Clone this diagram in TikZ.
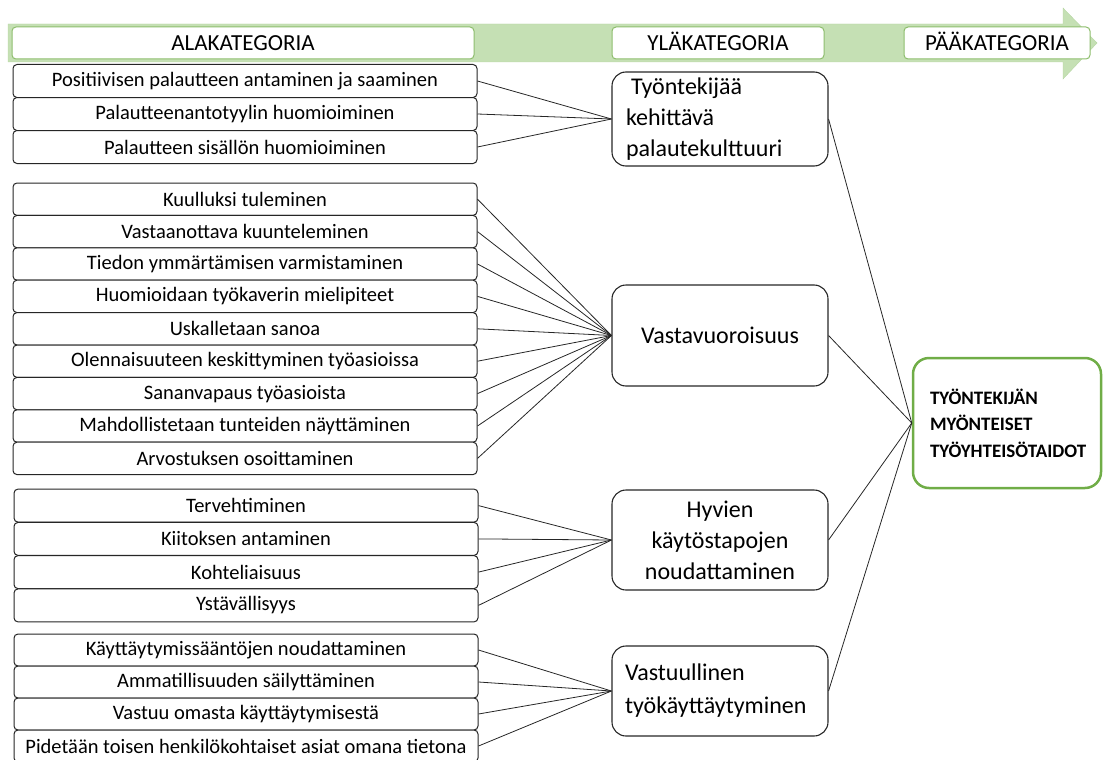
\documentclass[tikz,border=0pt]{standalone}
\usepackage{fontspec}
\setmainfont{Carlito}
\definecolor{bandgreen}{RGB}{197,224,180}
\definecolor{edgegreen}{RGB}{112,173,71}
\begin{document}
\begin{tikzpicture}[x=1pt,y=-1pt,
    alabox/.style={draw=black!85,line width=1pt,rounded corners=4pt,fill=white,
      minimum width=464pt,minimum height=33pt,inner sep=0pt,
      font=\fontsize{20.5}{22}\selectfont},
    headbox/.style={draw=edgegreen!80,line width=1pt,fill=white,rounded corners=4pt,
      minimum height=32pt,inner sep=0pt,text height=15pt,text depth=0pt,
      font=\fontsize{23}{25}\selectfont},
    ylabox/.style={draw=black!85,line width=1.1pt,rounded corners=14pt,
      minimum width=216pt,inner sep=0pt,font=\fontsize{24}{31}\selectfont},
    paabox/.style={draw=edgegreen,line width=2.5pt,rounded corners=16pt,
      minimum width=188pt,minimum height=130pt,inner sep=0pt,
      font=\bfseries\fontsize{19}{26.5}\selectfont},
    link/.style={draw=black!85,line width=0.8pt}]
  \useasboundingbox (0,0) rectangle (1103,760);
  % vihreä nuoli
  \path[fill=bandgreen,draw=edgegreen!50] (8,24)--(1063,24)--(1063,8)--(1097,43)
    --(1063,79)--(1063,62)--(8,62)--cycle;
  \node[headbox,minimum width=462pt] (ala) at (243,43) {ALAKATEGORIA};
  \node[headbox,minimum width=212pt] (yla) at (718,43) {YLÄKATEGORIA};
  \node[headbox,minimum width=186pt] (paakat) at (997,43) {PÄÄKATEGORIA};

  % alakategoriat
  \node[alabox] (a1) at (245,81) {Positiivisen palautteen antaminen ja saaminen};
  \node[alabox] (a2) at (245,114) {Palautteenantotyylin huomioiminen};
  \node[alabox] (a3) at (245,147) {Palautteen sisällön huomioiminen};

  \node[alabox,minimum height=32.4pt] (b1) at (245,199.2) {Kuulluksi tuleminen};
  \node[alabox,minimum height=32.4pt] (b2) at (245,231.6) {Vastaanottava kuunteleminen};
  \node[alabox,minimum height=32.4pt] (b3) at (245,264) {Tiedon ymmärtämisen varmistaminen};
  \node[alabox,minimum height=32.4pt] (b4) at (245,296.4) {Huomioidaan työkaverin mielipiteet};
  \node[alabox,minimum height=32.4pt] (b5) at (245,328.8) {Uskalletaan sanoa};
  \node[alabox,minimum height=32.4pt] (b6) at (245,361.2) {Olennaisuuteen keskittyminen työasioissa};
  \node[alabox,minimum height=32.4pt] (b7) at (245,393.6) {Sananvapaus työasioista};
  \node[alabox,minimum height=32.4pt] (b8) at (245,426) {Mahdollistetaan tunteiden näyttäminen};
  \node[alabox,minimum height=32.4pt] (b9) at (245,458.4) {Arvostuksen osoittaminen};

  \node[alabox] (c1) at (246,505.6) {Tervehtiminen};
  \node[alabox] (c2) at (246,538.9) {Kiitoksen antaminen};
  \node[alabox] (c3) at (246,572.1) {Kohteliaisuus};
  \node[alabox] (c4) at (246,605.4) {Ystävällisyys};

  \node[alabox,minimum height=32pt] (d1) at (246,650) {Käyttäytymissääntöjen noudattaminen};
  \node[alabox,minimum height=32pt] (d2) at (246,682) {Ammatillisuuden säilyttäminen};
  \node[alabox,minimum height=32pt] (d3) at (246,714) {Vastuu omasta käyttäytymisestä};
  \node[alabox,minimum height=32pt] (d4) at (246,746) {Pidetään toisen henkilökohtaiset asiat omana tietona};

  % yläkategoriat
  \node[ylabox,minimum height=94pt,text width=188pt,align=left] (kehitys) at (720,119)
    {\hspace*{5pt}Työntekijää\\kehittävä\\palautekulttuuri};
  \node[ylabox,minimum height=101pt] (vastavuoro) at (720,335.5) {Vastavuoroisuus};
  \node[ylabox,minimum height=100pt,align=center] (tavat) at (720,540)
    {Hyvien\\käytöstapojen\\noudattaminen};
  \node[ylabox,minimum height=90pt,text width=190pt,align=left,
    font=\fontsize{24}{33}\selectfont] (vastuu) at (720,691)
    {Vastuullinen\\työkäyttäytyminen};

  % pääkategoria
  \node[paabox,text width=178pt,align=left] (paa) at (1007,423)
    {\hspace*{12pt}TYÖNTEKIJÄN\\\hspace*{12pt}MYÖNTEISET\\\hspace*{12pt}TYÖYHTEISÖTAIDOT};

  % yhteydet
  \foreach \n in {a1,a2,a3} \draw[link] (\n.east) -- (kehitys.west);
  \foreach \n in {b1,b2,b3,b4,b5,b6,b7,b8,b9} \draw[link] (\n.east) -- (vastavuoro.west);
  \foreach \n in {c1,c2,c3,c4} \draw[link] (\n.east) -- (tavat.west);
  \foreach \n in {d1,d2,d3,d4} \draw[link] (\n.east) -- (vastuu.west);
  \foreach \n in {kehitys,vastavuoro,tavat,vastuu} \draw[link] (\n.east) -- (paa.west);
\end{tikzpicture}
\end{document}
